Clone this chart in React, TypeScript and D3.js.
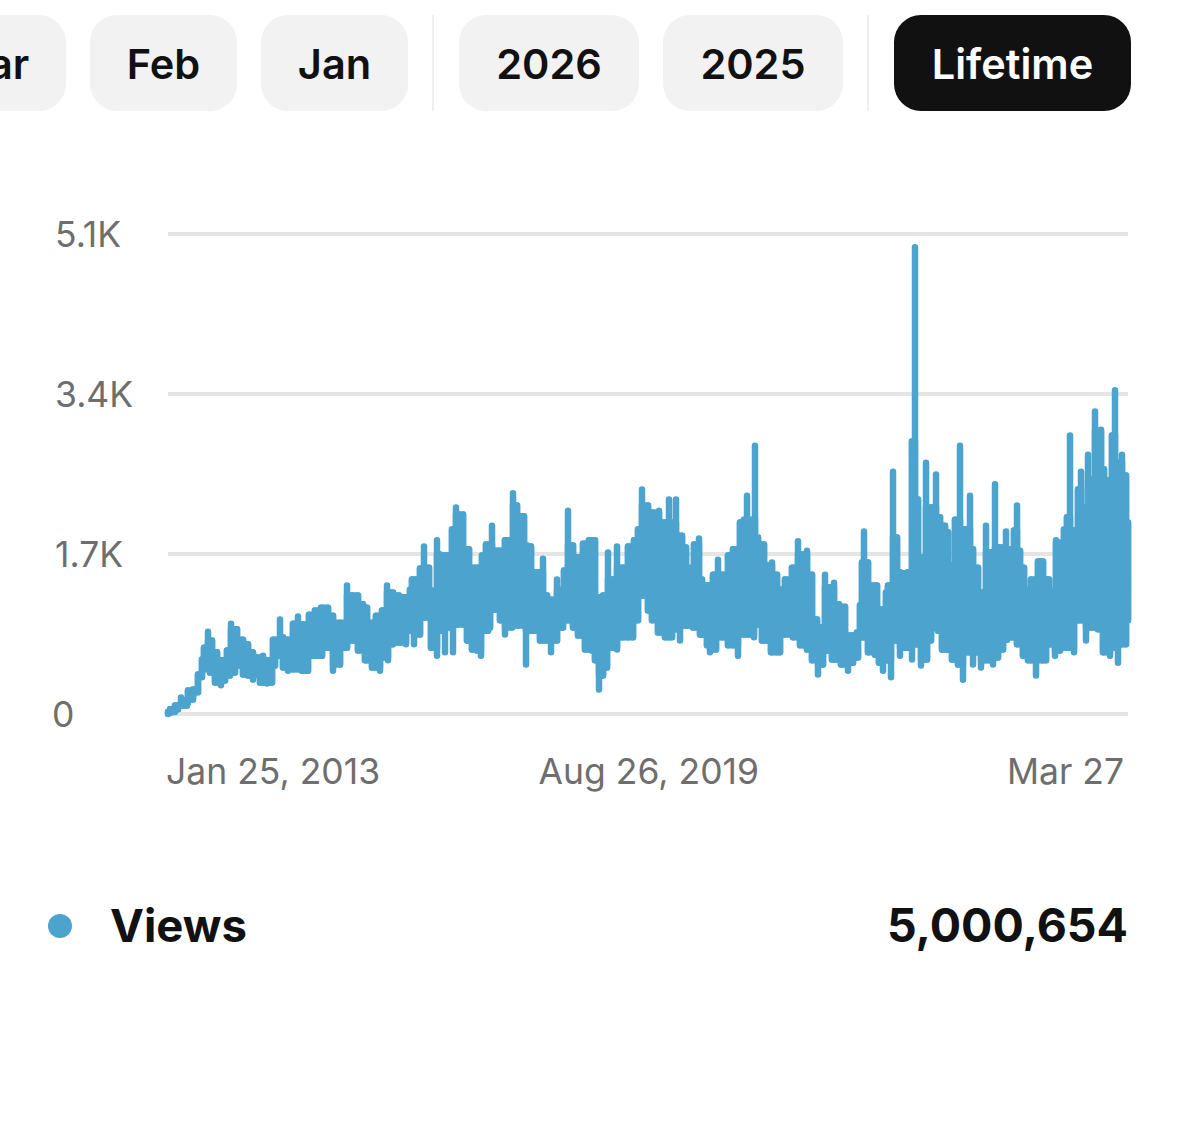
import React from "react";
import * as d3 from "d3";

const START = new Date(2013, 0, 25);
const END_DAY = 4800;

const periodButtons = [
  { label: "Mar", x0: -86, x1: 66, active: false },
  { label: "Feb", x0: 90, x1: 237, active: false },
  { label: "Jan", x0: 261, x1: 408, active: false },
  { label: "2026", x0: 459, x1: 639, active: false },
  { label: "2025", x0: 663, x1: 843, active: false },
  { label: "Lifetime", x0: 894, x1: 1131, active: true },
];
const separators = [433, 868];

const yTicks = [0, 1700, 3400, 5100];
const yTickLabels = ["0", "1.7K", "3.4K", "5.1K"];
const xTickLabels = [
  { label: "Jan 25, 2013", day: 0, anchor: "start" },
  { label: "Aug 26, 2019", day: 2404, anchor: "middle" },
  { label: "Mar 27", day: END_DAY, anchor: "end" },
];

// [days since Jan 25 2013, views] — local highs of the daily views
const highs: [number, number][] = [
[10,20],[35,90],[65,175],[75,120],[100,250],[125,260],[150,390],[170,580],[180,705],[200,875],[220,780],[245,655],[260,570],[295,675],[315,960],[345,900],[375,790],[400,740],[425,655],[450,600],[475,620],[500,570],[525,790],[560,1005],[575,815],[595,790],[625,960],[650,1035],[675,950],[705,1055],[735,1100],[765,1130],[800,1130],[825,1045],[860,970],[895,1365],[925,1260],[950,1260],[975,1165],[995,1130],[1010,970],[1040,1045],[1070,1100],[1095,1365],[1125,1290],[1155,1260],[1185,1240],[1210,1320],[1220,1430],[1260,1545],[1280,1780],[1305,1555],[1325,1310],[1345,1845],[1360,1695],[1385,1685],[1420,1960],[1440,2195],[1475,2120],[1505,1750],[1535,1555],[1570,1685],[1590,1800],[1620,2000],[1650,1735],[1685,1845],[1725,2345],[1745,2215],[1780,2100],[1795,1790],[1815,1780],[1845,1505],[1875,1650],[1895,1260],[1925,1215],[1945,1430],[1970,1320],[1980,1525],[2000,2160],[2025,1790],[2050,1665],[2075,1810],[2105,1845],[2135,1845],[2160,1240],[2175,1260],[2200,1715],[2220,1430],[2245,1780],[2270,1555],[2300,1780],[2330,1845],[2350,1960],[2370,2385],[2400,2215],[2420,2140],[2455,2160],[2475,2035],[2505,2280],[2520,2035],[2540,2280],[2570,1895],[2590,1770],[2600,1555],[2630,1800],[2655,1865],[2670,1430],[2695,1365],[2725,1480],[2750,1640],[2775,1480],[2800,1685],[2825,1750],[2860,2035],[2880,2065],[2895,2320],[2910,2065],[2935,2850],[2950,1875],[2980,1800],[2995,1580],[3020,1610],[3045,1480],[3065,1320],[3085,1430],[3120,1555],[3150,1835],[3175,1695],[3195,1735],[3220,1480],[3245,1005],[3265,920],[3285,1480],[3305,1345],[3330,1395],[3355,1165],[3385,1140],[3410,835],[3445,865],[3460,1155],[3470,1610],[3480,1940],[3500,1610],[3525,1365],[3545,1365],[3565,1110],[3590,1290],[3600,1365],[3625,2575],[3645,1875],[3660,1505],[3680,1495],[3700,1505],[3720,2895],[3735,4960],[3750,2280],[3770,1665],[3790,2670],[3815,2195],[3840,2545],[3860,2090],[3885,2000],[3900,1930],[3920,1580],[3935,2065],[3960,2850],[3985,1960],[4010,2320],[4025,1750],[4050,1555],[4065,1290],[4090,2000],[4110,1715],[4135,2440],[4165,1770],[4190,1940],[4210,1750],[4230,1950],[4245,2215],[4260,1735],[4280,1555],[4300,1320],[4315,1430],[4350,1620],[4375,1620],[4405,1430],[4420,1310],[4440,1845],[4470,1820],[4480,1960],[4495,2090],[4510,2960],[4525,1950],[4550,2385],[4565,2575],[4580,2195],[4600,2755],[4620,2490],[4635,3215],[4650,3010],[4665,3020],[4680,2600],[4700,2480],[4720,2960],[4735,3440],[4750,2670],[4770,2755],[4790,2535],[4800,2035],
];

// [days since Jan 25 2013, views] — local lows of the daily views
const lows: [number, number][] = [
[0,0],[10,10],[50,50],[95,90],[125,155],[150,230],[170,420],[180,475],[210,440],[235,335],[265,305],[285,355],[310,410],[335,440],[360,515],[375,420],[400,410],[425,365],[440,420],[460,335],[495,325],[520,335],[535,515],[560,620],[575,495],[600,460],[635,475],[670,460],[700,460],[730,620],[770,620],[800,705],[825,460],[860,525],[895,705],[920,780],[950,675],[985,570],[1020,495],[1060,460],[1075,600],[1100,570],[1125,740],[1160,760],[1190,740],[1210,885],[1230,740],[1260,845],[1285,1025],[1315,705],[1345,620],[1360,885],[1385,655],[1400,920],[1425,655],[1450,950],[1495,780],[1520,685],[1545,675],[1565,620],[1600,885],[1610,920],[1635,1110],[1660,995],[1685,845],[1720,920],[1750,940],[1790,525],[1825,885],[1860,780],[1895,780],[1915,655],[1945,780],[1975,920],[2000,995],[2025,920],[2050,835],[2085,685],[2120,675],[2135,570],[2155,260],[2175,410],[2195,495],[2210,705],[2245,685],[2275,815],[2325,815],[2350,995],[2375,1260],[2400,1100],[2420,995],[2450,865],[2485,815],[2520,815],[2545,900],[2560,780],[2595,940],[2625,920],[2660,845],[2695,730],[2710,655],[2740,685],[2770,815],[2800,730],[2850,620],[2895,845],[2930,815],[2945,950],[2970,780],[3015,655],[3060,655],[3085,845],[3125,815],[3160,730],[3195,685],[3220,570],[3250,420],[3275,525],[3295,675],[3320,580],[3345,580],[3365,525],[3400,460],[3425,545],[3450,600],[3470,815],[3500,655],[3535,630],[3555,545],[3575,460],[3600,570],[3615,390],[3635,780],[3660,620],[3685,705],[3720,580],[3745,740],[3765,515],[3795,580],[3815,780],[3830,920],[3850,885],[3870,685],[3895,685],[3920,580],[3950,525],[3975,365],[4000,655],[4025,525],[4045,655],[4065,495],[4090,570],[4125,525],[4150,600],[4175,685],[4195,790],[4220,815],[4245,740],[4275,620],[4300,570],[4340,410],[4370,570],[4390,570],[4410,740],[4435,620],[4460,675],[4495,705],[4530,655],[4560,995],[4590,780],[4620,920],[4650,900],[4675,655],[4710,620],[4725,705],[4750,545],[4790,740],[4800,995],
];

const legendLabel = "Views";
const totalViews = 5000654;

const BLUE = "#4ca3cd";
const TXT = "Inter, 'Noto Sans', sans-serif";
const STROKE = 6.5;

const toDate = (day: number) => d3.timeDay.offset(START, day);

type Row = { day: number; top: number; bottom: number };

// The daily series swings so fast that it reads as a solid band: for every
// read day, the band reaches the lower of the two highs and the higher of the
// two lows around it; the spikes themselves are then stroked as vertical runs.
function bandRows(): Row[] {
  const days = Array.from(new Set([...highs, ...lows].map((p) => p[0]))).sort(d3.ascending);
  const hiDays = highs.map((p) => p[0]);
  const loDays = lows.map((p) => p[0]);
  const pick = (pts: [number, number][], ds: number[], d: number) => {
    const i = Math.max(0, d3.bisectRight(ds, d) - 1);
    return [pts[i][1], pts[Math.min(i + 1, pts.length - 1)][1]];
  };
  return days.map((day) => {
    const [h0, h1] = pick(highs, hiDays, day);
    const [l0, l1] = pick(lows, loDays, day);
    const top = Math.min(h0, h1);
    const bottom = Math.max(l0, l1);
    return { day, top: Math.max(top, bottom), bottom: Math.min(top, bottom) };
  });
}

export default function App() {
  const x = d3.scaleTime().domain([START, toDate(END_DAY)]).range([168, 1128]);
  const y = d3.scaleLinear().domain([0, 5100]).range([714, 234]);
  const rows = bandRows();
  const px = (d: number) => x(toDate(d));

  const band = d3
    .area<Row>()
    .x((d) => px(d.day))
    .y0((d) => y(d.bottom))
    .y1((d) => y(d.top))
    .curve(d3.curveStepAfter);
  const run = d3
    .line<[number, number]>()
    .x((d) => px(d[0]))
    .y((d) => y(d[1]));
  const rowAt = (day: number) => rows[d3.bisectLeft(rows.map((r) => r.day), day)];

  const verticals =
    highs.map(([d, v]) => run([[d, v], [d, rowAt(d).bottom]])).join("") +
    lows.map(([d, v]) => run([[d, v], [d, rowAt(d).top]])).join("");

  return (
    <svg
      width={1179}
      height={1139}
      viewBox="0 0 1179 1139"
      style={{ position: "absolute", left: 0, top: 0, background: "#fff" }}
    >
      {periodButtons.map((b) => (
        <g key={b.label}>
          <rect
            x={b.x0}
            y={15}
            width={b.x1 - b.x0}
            height={96}
            rx={27}
            fill={b.active ? "#111111" : "#f2f2f2"}
          />
          <text
            x={(b.x0 + b.x1) / 2}
            y={79}
            textAnchor="middle"
            fontFamily={TXT}
            fontSize={41.5}
            fontWeight={600}
            fill={b.active ? "#ffffff" : "#111111"}
          >
            {b.label}
          </text>
        </g>
      ))}
      {separators.map((s) => (
        <line key={s} x1={s} x2={s} y1={15} y2={111} stroke="#efefef" strokeWidth={2} />
      ))}

      {yTicks.map((t, i) => (
        <g key={t}>
          <line x1={168} x2={1128} y1={y(t)} y2={y(t)} stroke="#e5e5e5" strokeWidth={4} />
          <text
            x={t === 0 ? 52 : 55}
            y={y(t) + 13}
            fontFamily={TXT}
            fontSize={35.5}
            fill="#6e6e6e"
          >
            {yTickLabels[i]}
          </text>
        </g>
      ))}

      <path
        d={band(rows) ?? ""}
        fill={BLUE}
        stroke={BLUE}
        strokeWidth={STROKE}
        strokeLinejoin="round"
      />
      <path
        d={verticals}
        fill="none"
        stroke={BLUE}
        strokeWidth={STROKE}
        strokeLinecap="round"
      />

      {xTickLabels.map((t) => (
        <text
          key={t.label}
          x={t.anchor === "start" ? 166 : t.anchor === "end" ? 1124 : px(t.day)}
          y={784}
          textAnchor={t.anchor}
          fontFamily={TXT}
          fontSize={35.5}
          fill="#6e6e6e"
        >
          {t.label}
        </text>
      ))}

      <circle cx={60} cy={926} r={12} fill={BLUE} />
      <text x={110} y={942} fontFamily={TXT} fontSize={45.5} fontWeight={700} fill="#111111">
        {legendLabel}
      </text>
      <text
        x={1128}
        y={942}
        textAnchor="end"
        fontFamily={TXT}
        fontSize={46.5}
        fontWeight={700}
        fill="#111111"
      >
        {d3.format(",")(totalViews)}
      </text>
    </svg>
  );
}
